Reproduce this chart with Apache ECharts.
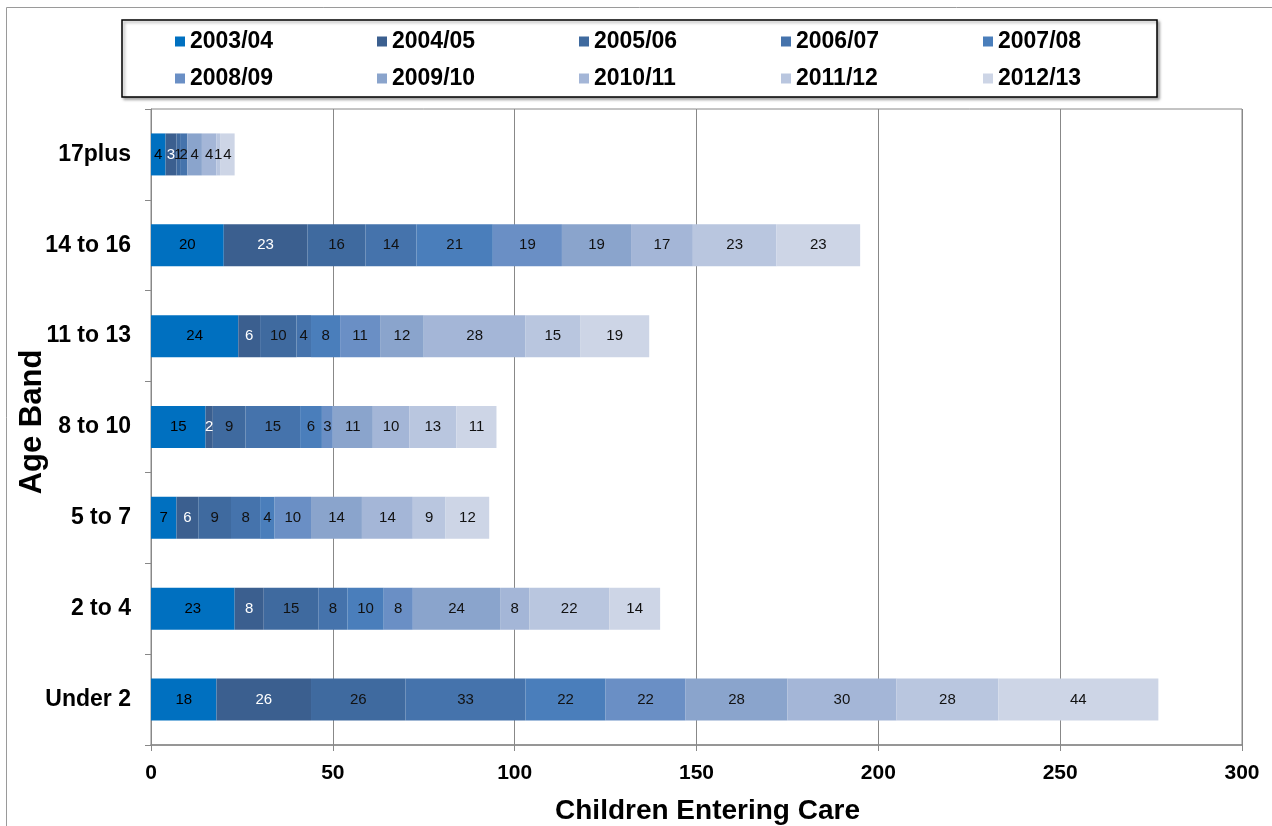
<!DOCTYPE html>
<html>
<head>
<meta charset="utf-8">
<script src="https://cdn.jsdelivr.net/npm/echarts@6/dist/echarts.min.js"></script>
<style>
  html, body { margin: 0; padding: 0; background: #fff; }
  #chart { width: 1272px; height: 826px; }
</style>
</head>
<body>
<div id="chart"></div>
<script>
// Age bands, bottom to top on the category axis
const ageBands = ['Under 2', '2 to 4', '5 to 7', '8 to 10', '11 to 13', '14 to 16', '17plus'];

// Children entering care per year, in the same order as ageBands
const years = ['2003/04', '2004/05', '2005/06', '2006/07', '2007/08',
               '2008/09', '2009/10', '2010/11', '2011/12', '2012/13'];
const y2003_04 = [18, 23, 7, 15, 24, 20, 4];
const y2004_05 = [26, 8, 6, 2, 6, 23, 3];
const y2005_06 = [26, 15, 9, 9, 10, 16, 1];
const y2006_07 = [33, 8, 8, 15, 4, 14, 2];
const y2007_08 = [22, 10, 4, 6, 8, 21, 0];
const y2008_09 = [22, 8, 10, 3, 11, 19, 0];
const y2009_10 = [28, 24, 14, 11, 12, 19, 4];
const y2010_11 = [30, 8, 14, 10, 28, 17, 4];
const y2011_12 = [28, 22, 9, 13, 15, 23, 1];
const y2012_13 = [44, 14, 12, 11, 19, 23, 4];
const yearValues = [y2003_04, y2004_05, y2005_06, y2006_07, y2007_08,
                    y2008_09, y2009_10, y2010_11, y2011_12, y2012_13];

const xTicks = [0, 50, 100, 150, 200, 250, 300];

const palette = ['#0070C0', '#3B5F8F', '#3F6A9F', '#4573AC', '#4A7EBB',
                 '#6A8FC5', '#8AA4CC', '#A4B6D7', '#B9C6DF', '#CDD5E6'];
const labelColors = ['#000', '#fff', '#111', '#111', '#111',
                     '#111', '#111', '#111', '#111', '#111'];

const FONT = "'Liberation Sans', Arial, sans-serif";

const series = years.map((yr, i) => ({
  name: yr,
  type: 'bar',
  stack: 'total',
  barWidth: 42,
  data: yearValues[i],
  itemStyle: { color: palette[i] },
  label: {
    show: true,
    position: 'inside',
    color: labelColors[i],
    fontFamily: FONT,
    fontSize: 15,
    formatter: p => (p.value ? String(p.value) : '')
  }
}));

const chart = echarts.init(document.getElementById('chart'));
chart.setOption({
  animation: false,
  color: palette,
  graphic: [
    { type: 'rect', silent: true, z: -10,
      shape: { x: 6.5, y: 7.5, width: 1400, height: 900 },
      style: { fill: 'none', stroke: '#9a9a9a', lineWidth: 1 } },
    { type: 'rect', silent: true, z: -5,
      shape: { x: 122, y: 20, width: 1035, height: 77 },
      style: { fill: '#fff', stroke: '#000', lineWidth: 1.5,
               shadowBlur: 3, shadowOffsetX: 2, shadowOffsetY: 2, shadowColor: 'rgba(0,0,0,0.35)' } }
  ],
  legend: {
    data: years,
    left: 175,
    top: 30,
    width: 1010,
    itemGap: 14,
    itemWidth: 10,
    itemHeight: 10,
    icon: 'rect',
    padding: 0,
    textStyle: {
      fontFamily: FONT,
      fontWeight: 'bold',
      fontSize: 23,
      lineHeight: 22,
      color: '#000',
      width: 173
    }
  },
  grid: {
    left: 151,
    right: 30,
    top: 109,
    bottom: 81,
    outerBoundsMode: 'none',
    containLabel: false,
    show: true,
    borderColor: '#888',
    borderWidth: 1
  },
  xAxis: {
    type: 'value',
    min: 0,
    max: 300,
    interval: 50,
    name: 'Children Entering Care',
    nameLocation: 'middle',
    nameGap: 52,
    nameMoveOverlap: false,
    nameTextStyle: { fontFamily: FONT, fontWeight: 'bold', fontSize: 28, color: '#000',
                     padding: [0, 0, 0, 22] },
    axisLine: { show: true, lineStyle: { color: '#888', width: 1.5 } },
    axisTick: { show: true, length: 6, lineStyle: { color: '#888' } },
    axisLabel: {
      margin: 18,
      fontFamily: FONT, fontWeight: 'bold', fontSize: 21, color: '#000',
      formatter: v => (xTicks.includes(v) ? String(v) : '')
    },
    splitLine: { show: true, lineStyle: { color: '#888', width: 1 } }
  },
  yAxis: {
    type: 'category',
    data: ageBands,
    name: 'Age Band',
    nameLocation: 'middle',
    nameGap: 103,
    nameRotate: 90,
    nameMoveOverlap: false,
    nameTextStyle: { fontFamily: FONT, fontWeight: 'bold', fontSize: 31, color: '#000',
                     padding: [0, 0, 0, 10] },
    axisLine: { show: true, lineStyle: { color: '#888', width: 1 } },
    axisTick: { show: true, length: 6, lineStyle: { color: '#888' } },
    axisLabel: {
      margin: 20,
      fontFamily: FONT, fontWeight: 'bold', fontSize: 23, color: '#000'
    }
  },
  series: series
});
</script>
</body>
</html>
